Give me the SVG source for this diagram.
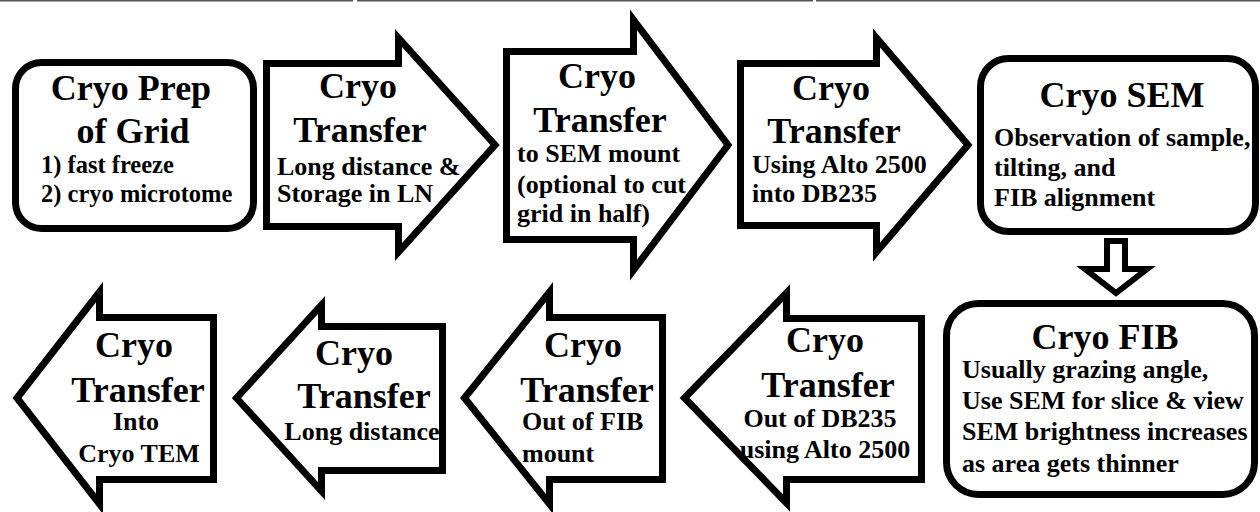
<svg xmlns="http://www.w3.org/2000/svg" width="1260" height="512" viewBox="0 0 1260 512">
<style>
.shape{fill:#fff;stroke:#000;stroke-width:7;stroke-linejoin:miter;stroke-miterlimit:10}
.h{font-size:36px;text-anchor:middle}
.s{font-size:26px}
.c{text-anchor:middle}
</style>
<rect width="1260" height="512" fill="#fff"/>
<g id="topline" fill="none" stroke="#555" stroke-width="1.5">
<path d="M0 0.8H353M357 0.8H813M816 0.8H1260"/>
</g>
<g id="connectors">
<path id="down-arrow" d="M1107 241H1125V269H1147L1116 293L1085 269H1107Z" fill="#fff" stroke="#000" stroke-width="6" stroke-miterlimit="10"/>
</g>
<g font-family="Liberation Serif, Times New Roman, DejaVu Serif, serif" font-weight="700" fill="#000">
<g id="n1">
<rect class="shape" x="15.5" y="62.5" width="238" height="166" rx="26"/>
<text class="h" x="131" y="100">Cryo Prep</text>
<text class="h" x="133" y="143">of Grid</text>
<text font-size="24.5" x="41" y="173">1) fast freeze</text>
<text font-size="24.5" x="41" y="202">2) cryo microtome</text>
</g>
<g id="n2">
<path class="shape" d="M266.5 63.5H398.5V38L495 145L398.5 252V226.5H266.5Z"/>
<text class="h" x="358" y="98">Cryo</text>
<text class="h" x="360" y="142">Transfer</text>
<text class="s" x="277" y="175">Long distance &amp;</text>
<text class="s" x="277" y="202">Storage in LN</text>
</g>
<g id="n3">
<path class="shape" d="M506.5 51.5H633.5V20L728 145L633.5 270V239.5H506.5Z"/>
<text class="h" x="597" y="88">Cryo</text>
<text class="h" x="600" y="132">Transfer</text>
<text class="s" x="517" y="162">to SEM mount</text>
<text class="s" x="517" y="193">(optional to cut</text>
<text class="s" x="517" y="222">grid in half)</text>
</g>
<g id="n4">
<path class="shape" d="M740.5 63.5H876.5V38L968 145L876.5 252V225.5H740.5Z"/>
<text class="h" x="831" y="100">Cryo</text>
<text class="h" x="834" y="143">Transfer</text>
<text class="s" x="752" y="173">Using Alto 2500</text>
<text class="s" x="752" y="202">into DB235</text>
</g>
<g id="n5">
<rect class="shape" x="980.5" y="58.5" width="275" height="173" rx="28"/>
<text class="h" x="1122" y="107">Cryo SEM</text>
<text class="s" x="994" y="146">Observation of sample,</text>
<text class="s" x="994" y="176">tilting, and</text>
<text class="s" x="994" y="206">FIB alignment</text>
</g>
<g id="n6">
<rect class="shape" x="946.5" y="303.5" width="308" height="191" rx="32"/>
<text class="h" x="1105" y="349">Cryo FIB</text>
<text class="s" x="962" y="378">Usually grazing angle,</text>
<text class="s" x="962" y="409">Use SEM for slice &amp; view</text>
<text class="s" x="962" y="440">SEM brightness increases</text>
<text class="s" x="962" y="472">as area gets thinner</text>
</g>
<g id="n7">
<path class="shape" d="M684.5 398L786.5 293V318.5H921.5V479.5H786.5V503Z"/>
<text class="h" x="825" y="352">Cryo</text>
<text class="h" x="828" y="397">Transfer</text>
<text class="s c" x="820" y="427">Out of DB235</text>
<text class="s c" x="825" y="458">using Alto 2500</text>
</g>
<g id="n8">
<path class="shape" d="M464.5 398L549.5 292V317.5H662.5V479.5H549.5V504Z"/>
<text class="h" x="583" y="357">Cryo</text>
<text class="h" x="587" y="402">Transfer</text>
<text class="s" x="522" y="430">Out of FIB</text>
<text class="s" x="522" y="462">mount</text>
</g>
<g id="n9">
<path class="shape" d="M236.5 398L321.5 305V326.5H442.5V470.5H321.5V491Z"/>
<text class="h" x="354" y="365">Cryo</text>
<text class="h" x="364" y="408">Transfer</text>
<text class="s c" x="362" y="440">Long distance</text>
</g>
<g id="n10">
<path class="shape" d="M17 398L99.5 292V317.5H213.5V479.5H99.5V504Z"/>
<text class="h" x="134" y="357">Cryo</text>
<text class="h" x="138" y="402">Transfer</text>
<text class="s c" x="136" y="430">Into</text>
<text class="s c" x="139" y="462">Cryo TEM</text>
</g>
</g>
</svg>
